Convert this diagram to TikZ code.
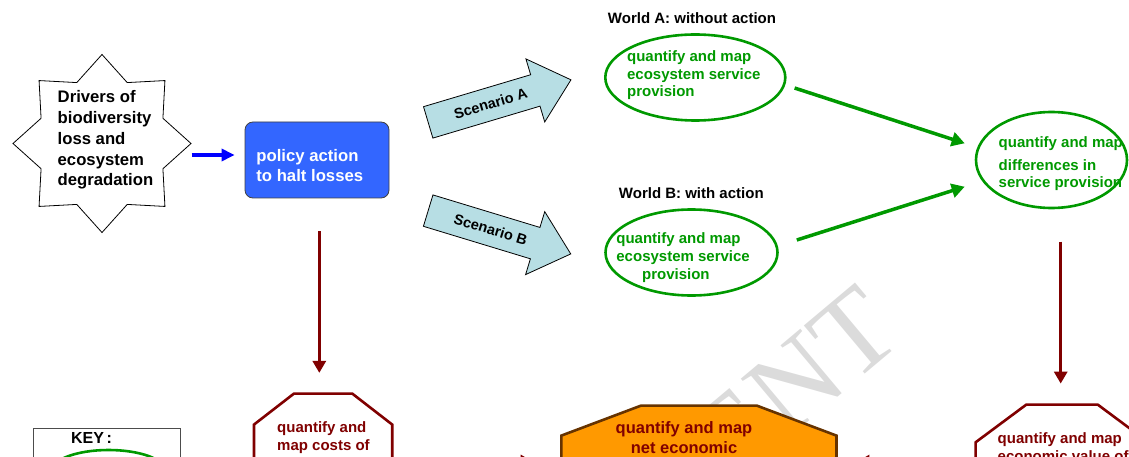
\documentclass[tikz,border=0pt]{standalone}
\usepackage{fontspec}
\setmainfont{Liberation Sans}
\newfontfamily\wmfont{Liberation Serif}
\usetikzlibrary{arrows.meta,shapes.geometric,shapes.arrows}

\definecolor{ecogreen}{RGB}{0,153,0}
\definecolor{lossred}{RGB}{128,0,0}
\definecolor{policyblue}{RGB}{51,102,255}
\definecolor{scenfill}{RGB}{183,222,228}
\definecolor{netorange}{RGB}{255,153,0}
\definecolor{netbrown}{RGB}{102,51,0}

\tikzset{every picture/.style={line width=0.8pt}}
\tikzset{
  lbl/.style={font=\bfseries\fontsize{15}{18}\selectfont, inner sep=0pt},
  bigtxt/.style={font=\bfseries\fontsize{16.7}{20.7}\selectfont, inner sep=0pt, align=left},
  greentxt/.style={lbl, text=ecogreen, align=left},
  redtxt/.style={lbl, text=lossred},
  worldell/.style={ellipse, draw=ecogreen, line width=2.6pt, inner sep=0pt},
  policybox/.style={rectangle, rounded corners=8pt, fill=policyblue, draw=black!75, minimum width=144, minimum height=76},
  scenario/.style={single arrow, draw, fill=scenfill, single arrow tip angle=83,
    single arrow head extend=16.5pt, minimum height=149, inner xsep=4pt, inner ysep=11pt,
    text height=10pt, text depth=0pt, font=\bfseries\fontsize{14.5}{14.5}\selectfont},
  octbox/.style={rectangle, draw=none, inner sep=0pt},
  octline/.style={line width=2.6pt, line join=miter},
  wmark/.style={text=black!14, font=\wmfont\fontsize{116}{116}\selectfont, inner sep=0pt},
  bluearrow/.style={draw=blue, line width=3.2pt, -{Triangle[length=13pt,width=12pt]}},
  greenarrow/.style={draw=ecogreen, line width=3.5pt, -{Triangle[length=13pt,width=14pt]}},
  lossarrow/.style={draw=lossred, line width=3.5pt, -{Triangle[length=12pt,width=13pt]}},
}

\begin{document}
\begin{tikzpicture}[x=1pt,y=1pt,yscale=-1,xscale=1]
\path[use as bounding box, clip] (0,0) rectangle (1129,457);
% Watermark
\node[wmark, rotate=40, anchor=base east] (wm) at (906,340) {ENT};

%Shape: Star [id:drivers]
\node[star, star points=8, star point ratio=1.35, draw, minimum size=178, inner sep=0pt] (drivers) at (102,143.5) {};
% Text Node
\node[bigtxt, anchor=north west] (driverstxt) at (57.3,90.5) {Drivers of\\biodiversity\\loss and\\ecosystem\\degradation};

%Shape: Rectangle [id:policy]
\node[policybox] (policy) at (317,160) {};
% Text Node
\node[bigtxt, text=white, font=\bfseries\fontsize{16.7}{20}\selectfont, anchor=north west] (policytxt) at (256,148.5) {policy action\\to halt losses};

%Straight Lines [id:driverspolicy]
\draw[bluearrow] ([shift={(0,11.5)}]drivers.0) -- ([shift={(-10,-5)}]policy.west);

%Shape: Right Arrow [id:scenA]
\node[scenario, rotate=16.6, anchor=tail] (scenA) at (427.8,122.5) {Scenario A};
%Shape: Right Arrow [id:scenB]
\node[scenario, rotate=-16.9, anchor=tail] (scenB) at (427.8,210.5) {Scenario B};

% Text Node
\node[lbl] (worldAlbl) at (692,18) {World A: without action};
\node[lbl] (worldBlbl) at (691.3,192.7) {World B: with action};

%Shape: Ellipse [id:worldA]
\node[worldell, minimum width=180, minimum height=86] (worldA) at (695.3,77.5) {};
\node[greentxt, font=\bfseries\fontsize{15}{17.5}\selectfont, anchor=north west] (worldAtxt) at (626.7,50.7) {quantify and map\\ecosystem service\\provision};
%Shape: Ellipse [id:worldB]
\node[worldell, minimum width=172, minimum height=86] (worldB) at (691.5,252.5) {};
\node[greentxt, anchor=north west] (worldBtxt) at (616,232.3) {quantify and map\\ecosystem service\\\hspace*{25.7pt}provision};
%Shape: Ellipse [id:diff]
\node[worldell, minimum width=151, minimum height=96] (diff) at (1051.5,160) {};
\node[greentxt, font=\bfseries\fontsize{15}{17.3}\selectfont, anchor=north west] (difftxt) at (998.3,136.7) {quantify and map\\[5pt]differences in\\service provision};

%Straight Lines [id:greenA]
\draw[greenarrow] ([shift={(8,10.5)}]worldA.east) -- ([shift={(-10,-16.7)}]diff.west);
%Straight Lines [id:greenB]
\draw[greenarrow] ([shift={(18,-12.5)}]worldB.east) -- ([shift={(-10,26.7)}]diff.west);

%Shape: Octagon [id:costs]
\node[octbox, minimum width=137.5, minimum height=140] (costs) at (323.1,464) {};
\draw[octline, draw=lossred, fill=white] ([shift={(40,0)}]costs.north west) -- ([shift={(-40,0)}]costs.north east)
  -- ([shift={(0,31)}]costs.north east) -- ([shift={(0,-31)}]costs.south east) -- ([shift={(-40,0)}]costs.south east)
  -- ([shift={(40,0)}]costs.south west) -- ([shift={(0,-31)}]costs.south west) -- ([shift={(0,31)}]costs.north west) -- cycle;
\node[redtxt, align=left, anchor=north west] (coststxt) at (276.8,421) {quantify and\\map costs of};
%Shape: Octagon [id:net]
\node[octbox, minimum width=274.3, minimum height=120] (net) at (698.9,466) {};
\draw[octline, draw=netbrown, fill=netorange] ([shift={(79.7,0)}]net.north west) -- ([shift={(-79.7,0)}]net.north east)
  -- ([shift={(0,30)}]net.north east) -- ([shift={(0,-30)}]net.south east) -- ([shift={(-79.7,0)}]net.south east)
  -- ([shift={(79.7,0)}]net.south west) -- ([shift={(0,-30)}]net.south west) -- ([shift={(0,30)}]net.north west) -- cycle;
\node[redtxt, font=\bfseries\fontsize{16.5}{20.5}\selectfont, align=center, anchor=north] (nettxt) at (684,421) {quantify and map\\net economic};
%Shape: Octagon [id:value]
\node[octbox, minimum width=172, minimum height=140] (value) at (1062,475) {};
\draw[octline, draw=lossred, fill=white] ([shift={(50.7,0)}]value.north west) -- ([shift={(-50.7,0)}]value.north east)
  -- ([shift={(0,37.7)}]value.north east) -- ([shift={(0,-37.7)}]value.south east) -- ([shift={(-50.7,0)}]value.south east)
  -- ([shift={(50.7,0)}]value.south west) -- ([shift={(0,-37.7)}]value.south west) -- ([shift={(0,37.7)}]value.north west) -- cycle;
\node[redtxt, align=left, anchor=north west] (valuetxt) at (997.3,432.5) {quantify and map\\economic value of};

%Straight Lines [id:policycosts]
\draw[lossarrow] ([shift={(2.3,33)}]policy.south) -- ([shift={(-3.8,-20.7)}]costs.north);
%Straight Lines [id:diffvalue]
\draw[lossarrow] ([shift={(9.2,32.4)}]diff.south) -- ([shift={(-1.3,-21)}]value.north);
%Straight Lines [id:costsnet]
\draw[lossarrow] ([shift={(0,-2.5)}]costs.east) -- ([shift={(-28.7,-4.5)}]net.west);
%Straight Lines [id:valuenet]
\draw[lossarrow] ([shift={(0,-13.5)}]value.west) -- ([shift={(21,-4.5)}]net.east);

%Shape: Rectangle [id:key]
\node[draw=black!70, minimum width=147, minimum height=100, anchor=north west, inner sep=0pt] (key) at (33,428) {};
\node[lbl, font=\bfseries\fontsize{16}{18}\selectfont] (keylbl) at (91.5,438) {KEY\,:};
\node[worldell, minimum width=114, minimum height=42] (keyell) at (108.6,471) {};
\end{tikzpicture}
\end{document}
